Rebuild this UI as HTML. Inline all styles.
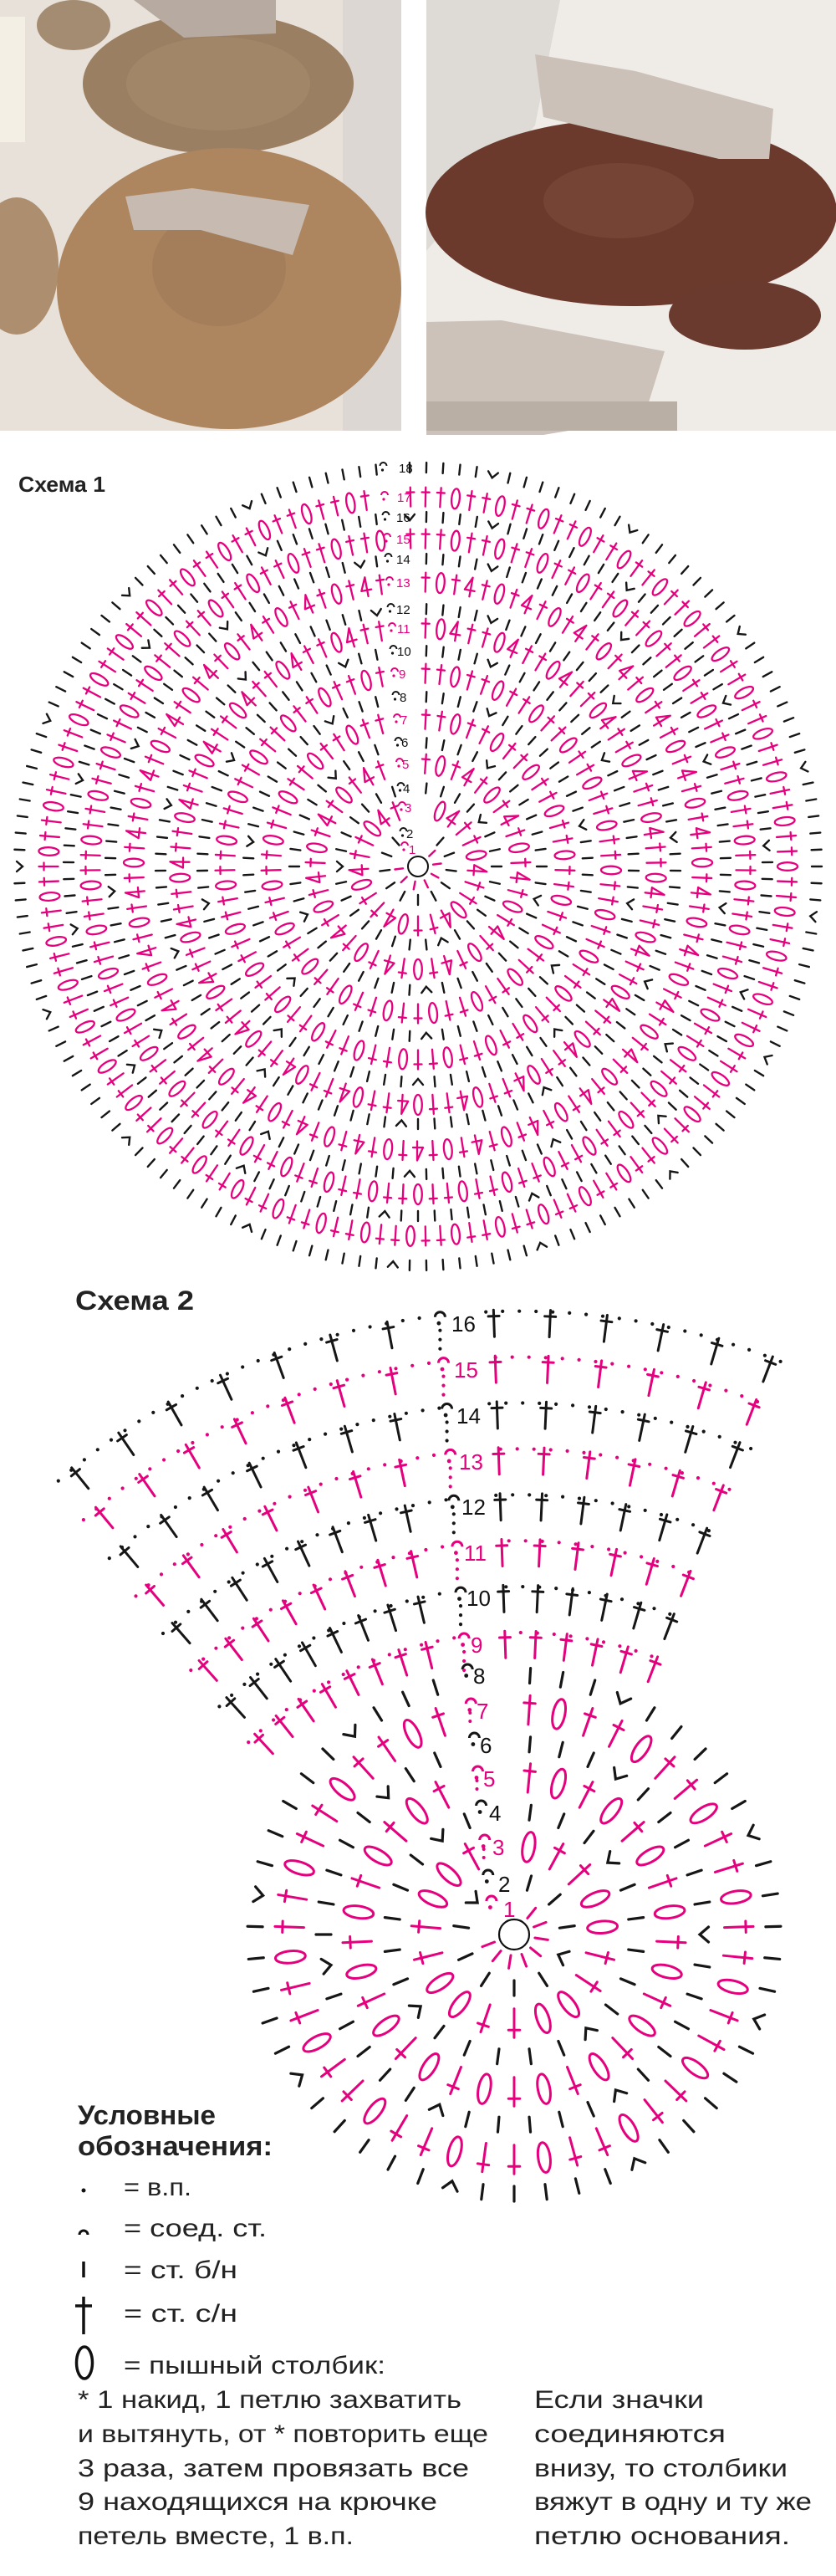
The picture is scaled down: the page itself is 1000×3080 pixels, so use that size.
<!DOCTYPE html>
<html><head><meta charset="utf-8">
<style>
html,body{margin:0;padding:0;background:#fff;}
svg{display:block;}
text{font-family:"Liberation Sans",sans-serif;}
</style></head>
<body>
<svg id="root" xmlns="http://www.w3.org/2000/svg" width="1000" height="3080" viewBox="0 0 1000 3080">
<rect x="0" y="0" width="480" height="515" fill="#e8e1d9"/>
<rect x="410" y="0" width="70" height="515" fill="#dcd7d2"/>
<rect x="0" y="20" width="30" height="150" fill="#f3efe4"/>
<ellipse cx="88" cy="30" rx="44" ry="30" fill="#a48c72"/>
<ellipse cx="20" cy="318" rx="50" ry="82" fill="#ad8e6e"/>
<ellipse cx="261" cy="100" rx="162" ry="84" fill="#9b7f63"/>
<ellipse cx="261" cy="100" rx="110" ry="56" fill="#a68a6d" opacity="0.6"/>
<ellipse cx="274" cy="345" rx="206" ry="168" fill="#ad8660"/>
<ellipse cx="262" cy="320" rx="80" ry="70" fill="#9e7a56" opacity="0.6"/>
<path d="M160,0 L330,0 L330,40 L220,45 Z" fill="#b6aaa1"/>
<path d="M150,235 L230,225 L370,245 L350,305 L240,275 L160,275 Z" fill="#c6bab1"/>
<rect x="510" y="0" width="490" height="515" fill="#efece8"/>
<path d="M510,0 L670,0 L640,150 L510,300 Z" fill="#dedad6"/>
<ellipse cx="755" cy="254" rx="246" ry="112" fill="#6b3a2d"/>
<ellipse cx="740" cy="240" rx="90" ry="45" fill="#7a4838" opacity="0.7"/>
<ellipse cx="891" cy="377" rx="91" ry="41" fill="#6a3a2e"/>
<path d="M640,65 L760,85 L925,130 L920,190 L860,190 L650,140 Z" fill="#ccc1b9"/>
<path d="M510,385 L600,383 L795,420 L770,500 L650,520 L510,520 Z" fill="#cdc2ba"/>
<rect x="510" y="480" width="300" height="35" fill="#b9afa4"/>

<text x="22" y="588" font-size="26" font-weight="bold" fill="#222" textLength="104" lengthAdjust="spacingAndGlyphs">Схема 1</text>
<text x="90" y="1566" font-size="32" font-weight="bold" fill="#222" textLength="142" lengthAdjust="spacingAndGlyphs">Схема 2</text>

<circle cx="500" cy="1036" r="12" fill="#fff" stroke="#111" stroke-width="2"/>
<circle cx="615" cy="2313" r="18" fill="#fff" stroke="#111" stroke-width="2.2"/>

<g id="s"></g>

<g font-size="15">
<text x="489" y="1021" fill="#e5007d">1</text>
<text x="486" y="1002" fill="#111">2</text>
<text x="484" y="971" fill="#e5007d">3</text>
<text x="482" y="948" fill="#111">4</text>
<text x="481" y="919" fill="#e5007d">5</text>
<text x="480" y="893" fill="#111">6</text>
<text x="479" y="866" fill="#e5007d">7</text>
<text x="478" y="839" fill="#111">8</text>
<text x="477" y="811" fill="#e5007d">9</text>
<text x="475" y="784" fill="#111">10</text>
<text x="475" y="757" fill="#e5007d">11</text>
<text x="474" y="734" fill="#111">12</text>
<text x="474" y="702" fill="#e5007d">13</text>
<text x="474" y="674" fill="#111">14</text>
<text x="474" y="650" fill="#e5007d">15</text>
<text x="474" y="624" fill="#111">16</text>
<text x="475" y="600" fill="#e5007d">17</text>
<text x="477" y="565" fill="#111">18</text>
</g>
<g font-size="26">
<text x="602" y="2292" fill="#e5007d">1</text>
<text x="596" y="2262" fill="#111">2</text>
<text x="589" y="2218" fill="#e5007d">3</text>
<text x="585" y="2177" fill="#111">4</text>
<text x="578" y="2136" fill="#e5007d">5</text>
<text x="574" y="2096" fill="#111">6</text>
<text x="570" y="2055" fill="#e5007d">7</text>
<text x="566" y="2013" fill="#111">8</text>
<text x="563" y="1976" fill="#e5007d">9</text>
<text x="558" y="1920" fill="#111">10</text>
<text x="555" y="1866" fill="#e5007d">11</text>
<text x="552" y="1811" fill="#111">12</text>
<text x="549" y="1757" fill="#e5007d">13</text>
<text x="546" y="1702" fill="#111">14</text>
<text x="543" y="1647" fill="#e5007d">15</text>
<text x="540" y="1592" fill="#111">16</text>
</g>

<text x="93" y="2540" font-size="32" font-weight="bold" fill="#222" textLength="165" lengthAdjust="spacingAndGlyphs">Условные</text>
<text x="93" y="2577" font-size="32" font-weight="bold" fill="#222" textLength="233" lengthAdjust="spacingAndGlyphs">обозначения:</text>
<circle cx="100" cy="2619" r="2.5" fill="#111"/>
<path d="M95,2672 A5,5 0 0 1 105,2672" fill="none" stroke="#111" stroke-width="3"/>
<line x1="100" y1="2704" x2="100" y2="2723" stroke="#111" stroke-width="3.5"/>
<line x1="100" y1="2746" x2="100" y2="2791" stroke="#111" stroke-width="3.5"/>
<line x1="90" y1="2757" x2="110" y2="2757" stroke="#111" stroke-width="3.5"/>
<ellipse cx="101" cy="2825" rx="9.5" ry="19" fill="none" stroke="#111" stroke-width="3.5"/>
<g font-size="30" fill="#222">
<text x="148" y="2625" textLength="81" lengthAdjust="spacingAndGlyphs">= в.п.</text>
<text x="148" y="2674" textLength="171" lengthAdjust="spacingAndGlyphs">= соед. ст.</text>
<text x="148" y="2724" textLength="136" lengthAdjust="spacingAndGlyphs">= ст. б/н</text>
<text x="148" y="2776" textLength="136" lengthAdjust="spacingAndGlyphs">= ст. с/н</text>
<text x="148" y="2838" textLength="313" lengthAdjust="spacingAndGlyphs">= пышный столбик:</text>
<text x="93" y="2879" textLength="459" lengthAdjust="spacingAndGlyphs">* 1 накид, 1 петлю захватить</text>
<text x="93" y="2920" textLength="491" lengthAdjust="spacingAndGlyphs">и вытянуть, от * повторить еще</text>
<text x="93" y="2961" textLength="468" lengthAdjust="spacingAndGlyphs">3 раза, затем провязать все</text>
<text x="93" y="3001" textLength="430" lengthAdjust="spacingAndGlyphs">9 находящихся на крючке</text>
<text x="93" y="3042" textLength="330" lengthAdjust="spacingAndGlyphs">петель вместе, 1 в.п.</text>
<text x="639" y="2879" textLength="203" lengthAdjust="spacingAndGlyphs">Если значки</text>
<text x="639" y="2920" textLength="229" lengthAdjust="spacingAndGlyphs">соединяются</text>
<text x="639" y="2961" textLength="303" lengthAdjust="spacingAndGlyphs">внизу, то столбики</text>
<text x="639" y="3001" textLength="332" lengthAdjust="spacingAndGlyphs">вяжут в одну и ту же</text>
<text x="639" y="3042" textLength="306" lengthAdjust="spacingAndGlyphs">петлю основания.</text>
</g>
</svg>
<script>
(function(){
var P='#e5007d',B='#161616';
var out='';
function sym(t,x,y,deg,s,col,sw){
 var h='';
 if(t=='d')h='<line x1="0" y1="-6" x2="0" y2="6"/>';
 else if(t=='t')h='<line x1="0" y1="-11.5" x2="0" y2="11.5"/><line x1="-4.5" y1="-5.5" x2="4.5" y2="-5.5"/>';
 else if(t=='o')h='<ellipse rx="4.8" ry="12"/>';
 else if(t=='a')h='<path d="M1,-11.5 L1,11.5 M-6,4 L6,4 M-6,4 L1,-11.5"/>';
 else if(t=='v')h='<path d="M-6,-3 L0,4 L6,-3"/>';
 else if(t=='f')h='<line x1="0" y1="-16" x2="0" y2="16"/><line x1="-6.5" y1="-8.5" x2="6.5" y2="-8.5"/>';
 out+='<g transform="translate('+x.toFixed(1)+','+y.toFixed(1)+') rotate('+deg.toFixed(1)+') scale('+s+')" stroke="'+col+'" stroke-width="'+(sw/s).toFixed(2)+'" fill="none" stroke-linecap="round">'+h+'</g>';
}
function dot(x,y,r,col){out+='<circle cx="'+x.toFixed(1)+'" cy="'+y.toFixed(1)+'" r="'+r+'" fill="'+col+'"/>';}
function slip(x,y,s,col){
 out+='<path d="M'+(x-4*s)+','+(y+2*s)+' A'+(4*s)+','+(4*s)+' 0 1 1 '+(x+4*s)+','+(y+2*s)+'" fill="none" stroke="'+col+'" stroke-width="'+(2*s)+'"/>';
 dot(x-1*s,y+7*s,1.6*s,col);
}
function ring(cx,cy,r,n,typef,s,col,sw,gL,gR,off){
 for(var i=0;i<n;i++){
  var a=(i+off)/n*2*Math.PI;
  var x=cx+r*Math.sin(a),y=cy-r*Math.cos(a);
  if(y<cy && x>gL && x<gR) continue;
  sym(typef(i),x,y,a*180/Math.PI,s,col,sw);
 }
}
var pats=['to','tto','tot','toat','ttot','tota','otto','tto'];
var r1=[23,40,71,94,123,148,176,203,231,258,285,308,340,368,392,418,442,477];
for(var k=1;k<=18;k++){
 var r=r1[k-1];
 var sl=485.5-1.5*k, gl=sl-7, gr=sl+28;
 if(k==1){ring(500,1036,r,10,function(){return 'd';},0.8,P,2.4,gl,gr,0.3);}
 else if(k%2==0){
  var n=Math.max(8,Math.round(2*Math.PI*r/20));
  ring(500,1036,r,n,function(i){return (k>=4&&i%9==4)?'v':'d';},1,B,2.4,gl,gr,0.5);
 } else {
  var n2=Math.max(8,Math.round(2*Math.PI*r/18));
  var p=pats[k%pats.length];
  ring(500,1036,r,n2,function(i){return p[i%p.length];},1,P,2.3,gl,gr,0.5);
 }
 slip(sl,1036-r-4,1,k%2?P:B);
}
var r2=[33,64,106,147,188,228,269,310];
for(var k=1;k<=8;k++){
 var r=r2[k-1];
 var sl=592-4.1*k, gl=sl-12, gr=sl+40;
 if(k==1){ring(615,2313,r,12,function(){return 'd';},1.3,P,3,gl,gr,0.3);}
 else if(k%2==0){
  var n=Math.max(8,Math.round(2*Math.PI*r/38));
  ring(615,2313,r,n,function(i){return (i%6==3)?'v':'d';},1.5,B,3.2,gl,gr,0.5);
 } else {
  var n2=Math.max(8,Math.round(2*Math.PI*r/36));
  var p=pats[(k+3)%pats.length];
  ring(615,2313,r,n2,function(i){return p[i%p.length];},1.5,P,3,gl,gr,0.5);
 }
 slip(sl,2313-r-10,1.5,k%2?P:B);
 if(k%2==1&&k>1){dot(sl-1,2313-r+4,2,P);dot(sl-1,2313-r+14,2,P);}
}
var cx=620,cy=2415,D=Math.PI/180;
for(var k=9;k<=16;k++){
 var R=449+(k-9)*54.9, col=(k%2)?P:B;
 var nL=(k<=12)?8:7, aS=-13.8+(k-9)*0.45, aE=-42.7+(k-9)*0.53;
 for(var j=0;j<nL;j++){
  var t=j/(nL-1), a=(aS+(aE-aS)*t)*D;
  sym('f',cx+R*Math.sin(a),cy-R*Math.cos(a),a/D,1,col,3);
 }
 for(var j=0;j<6;j++){
  var a=(-2+23*j/5)*D;
  sym('f',cx+R*Math.sin(a),cy-R*Math.cos(a),a/D,1,col,3);
 }
 var sl=592-4.1*k;
 var Rd=R+14, step=20/Rd;
 for(var a=(aE-1.5)*D;a<=22.5*D;a+=step){
  var x=cx+Rd*Math.sin(a),y=cy-Rd*Math.cos(a);
  if(x>sl-6&&x<sl+50)continue;
  dot(x,y,2.1,col);
 }
 slip(sl,cy-R-10,1.5,col);
 for(var q=1;q<=3;q++) dot(sl,cy-R-10+8+q*11,2.1,col);
}
document.getElementById('s').innerHTML=out;
})();
</script>
</body></html>
